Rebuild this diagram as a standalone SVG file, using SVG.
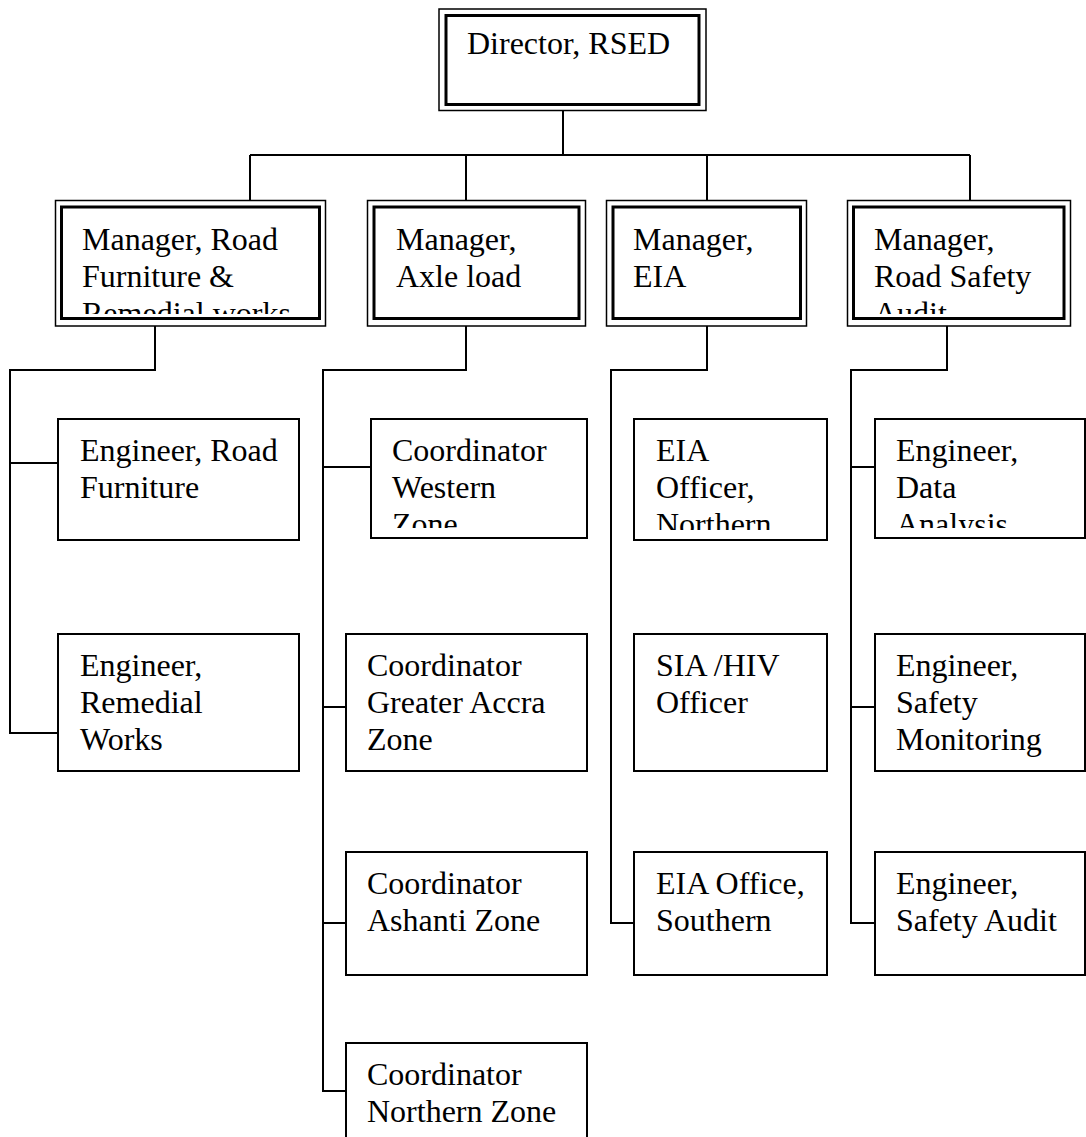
<svg xmlns="http://www.w3.org/2000/svg" width="1086" height="1137" viewBox="0 0 1086 1137">
  <style>
    .bg { fill: #ffffff; }
    .box { fill: #ffffff; stroke: #000000; stroke-width: 2; }
    .outer { fill: #ffffff; stroke: #000000; stroke-width: 1.5; }
    .inner { fill: none; stroke: #000000; stroke-width: 3; }
    .wire { fill: none; stroke: #000000; stroke-width: 2; }
    .lbl { font-family: "Liberation Serif", "Times New Roman", serif; font-size: 32px; fill: #000000; }
  </style>
  <defs>
    <clipPath id="c-dir"><rect x="446" y="16" width="253" height="86"/></clipPath>
    <clipPath id="c-m1"><rect x="62" y="208" width="257" height="106"/></clipPath>
    <clipPath id="c-m2"><rect x="375" y="208" width="204" height="106"/></clipPath>
    <clipPath id="c-m3"><rect x="614" y="208" width="186" height="106"/></clipPath>
    <clipPath id="c-m4"><rect x="855" y="208" width="208" height="106"/></clipPath>
    <clipPath id="c-west"><rect x="372" y="420" width="214" height="108"/></clipPath>
    <clipPath id="c-eian"><rect x="635" y="420" width="191" height="110"/></clipPath>
    <clipPath id="c-data"><rect x="876" y="420" width="208" height="108"/></clipPath>
  </defs>

  <rect class="bg" x="0" y="0" width="1086" height="1137"/>

  <!-- reporting lines -->
  <g id="connectors">
    <path class="wire" d="M563 110 V155"/>
    <path class="wire" d="M250 155 H970"/>
    <path class="wire" d="M250 155 V201 M466 155 V201 M707 155 V201 M970 155 V201"/>
    <!-- road furniture branch -->
    <path class="wire" d="M155 326 V370 H10 V733 H58 M10 463 H58"/>
    <!-- axle load branch -->
    <path class="wire" d="M466 326 V370 H323 V1091 H346 M323 467 H371 M323 707 H346 M323 923 H346"/>
    <!-- EIA branch -->
    <path class="wire" d="M707 326 V370 H611 V923 H634"/>
    <!-- road safety audit branch -->
    <path class="wire" d="M947 326 V370 H851 V923 H875 M851 467 H875 M851 707 H875"/>
  </g>

  <!-- director -->
  <g id="director">
    <rect class="outer" x="439" y="9" width="267" height="101.5"/>
    <rect class="inner" x="446" y="15.5" width="253" height="89"/>
    <text class="lbl" x="467" y="54" clip-path="url(#c-dir)">Director, RSED</text>
  </g>

  <!-- managers -->
  <g id="mgr-furniture">
    <rect class="outer" x="55.5" y="200.5" width="270" height="125.5"/>
    <rect class="inner" x="61.5" y="207" width="258" height="111.5"/>
    <text class="lbl" clip-path="url(#c-m1)"><tspan x="82" y="250">Manager, Road</tspan><tspan x="82" y="287">Furniture &amp;</tspan><tspan x="82" y="324">Remedial works</tspan></text>
  </g>
  <g id="mgr-axle">
    <rect class="outer" x="367.5" y="200.5" width="218" height="125.5"/>
    <rect class="inner" x="374" y="207" width="205" height="111.5"/>
    <text class="lbl" clip-path="url(#c-m2)"><tspan x="396" y="250">Manager,</tspan><tspan x="396" y="287">Axle load</tspan></text>
  </g>
  <g id="mgr-eia">
    <rect class="outer" x="606.5" y="200.5" width="200" height="125.5"/>
    <rect class="inner" x="613" y="207" width="187.5" height="111.5"/>
    <text class="lbl" clip-path="url(#c-m3)"><tspan x="633" y="250">Manager,</tspan><tspan x="633" y="287">EIA</tspan></text>
  </g>
  <g id="mgr-safety">
    <rect class="outer" x="847.5" y="200.5" width="223" height="125.5"/>
    <rect class="inner" x="853.5" y="207" width="210.5" height="111.5"/>
    <text class="lbl" clip-path="url(#c-m4)"><tspan x="874" y="250">Manager,</tspan><tspan x="874" y="287">Road Safety</tspan><tspan x="874" y="324">Audit</tspan></text>
  </g>

  <!-- road furniture staff -->
  <g id="eng-road-furniture">
    <rect class="box" x="58" y="419" width="241" height="121"/>
    <text class="lbl"><tspan x="80" y="461">Engineer, Road</tspan><tspan x="80" y="498">Furniture</tspan></text>
  </g>
  <g id="eng-remedial">
    <rect class="box" x="58" y="634" width="241" height="137"/>
    <text class="lbl"><tspan x="80" y="676">Engineer,</tspan><tspan x="80" y="713">Remedial</tspan><tspan x="80" y="750">Works</tspan></text>
  </g>

  <!-- axle load coordinators -->
  <g id="coord-western">
    <rect class="box" x="371" y="419" width="216" height="119"/>
    <text class="lbl" clip-path="url(#c-west)"><tspan x="392" y="461">Coordinator</tspan><tspan x="392" y="498">Western</tspan><tspan x="392" y="535">Zone</tspan></text>
  </g>
  <g id="coord-accra">
    <rect class="box" x="346" y="634" width="241" height="137"/>
    <text class="lbl"><tspan x="367" y="676">Coordinator</tspan><tspan x="367" y="713">Greater Accra</tspan><tspan x="367" y="750">Zone</tspan></text>
  </g>
  <g id="coord-ashanti">
    <rect class="box" x="346" y="852" width="241" height="123"/>
    <text class="lbl"><tspan x="367" y="894">Coordinator</tspan><tspan x="367" y="931">Ashanti Zone</tspan></text>
  </g>
  <g id="coord-northern">
    <rect class="box" x="346" y="1043" width="241" height="130"/>
    <text class="lbl"><tspan x="367" y="1085">Coordinator</tspan><tspan x="367" y="1122">Northern Zone</tspan></text>
  </g>

  <!-- EIA staff -->
  <g id="eia-northern">
    <rect class="box" x="634" y="419" width="193" height="121"/>
    <text class="lbl" clip-path="url(#c-eian)"><tspan x="656" y="461">EIA</tspan><tspan x="656" y="498">Officer,</tspan><tspan x="656" y="535">Northern</tspan></text>
  </g>
  <g id="sia-hiv">
    <rect class="box" x="634" y="634" width="193" height="137"/>
    <text class="lbl"><tspan x="656" y="676">SIA /HIV</tspan><tspan x="656" y="713">Officer</tspan></text>
  </g>
  <g id="eia-southern">
    <rect class="box" x="634" y="852" width="193" height="123"/>
    <text class="lbl"><tspan x="656" y="894">EIA Office,</tspan><tspan x="656" y="931">Southern</tspan></text>
  </g>

  <!-- road safety staff -->
  <g id="eng-data">
    <rect class="box" x="875" y="419" width="210" height="119"/>
    <text class="lbl" clip-path="url(#c-data)"><tspan x="896" y="461">Engineer,</tspan><tspan x="896" y="498">Data</tspan><tspan x="896" y="535">Analysis</tspan></text>
  </g>
  <g id="eng-monitoring">
    <rect class="box" x="875" y="634" width="210" height="137"/>
    <text class="lbl"><tspan x="896" y="676">Engineer,</tspan><tspan x="896" y="713">Safety</tspan><tspan x="896" y="750">Monitoring</tspan></text>
  </g>
  <g id="eng-audit">
    <rect class="box" x="875" y="852" width="210" height="123"/>
    <text class="lbl"><tspan x="896" y="894">Engineer,</tspan><tspan x="896" y="931">Safety Audit</tspan></text>
  </g>
</svg>
